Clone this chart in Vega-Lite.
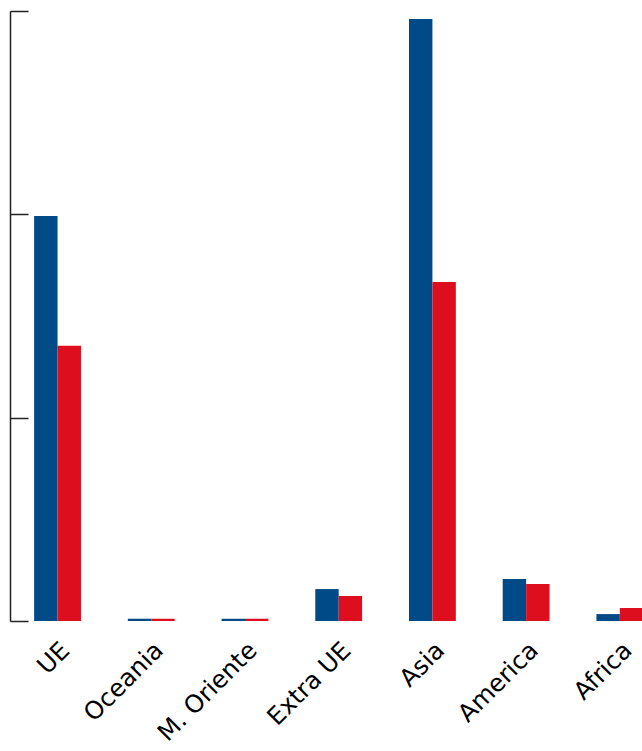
{
  "$schema": "https://vega.github.io/schema/vega-lite/v6.json",
  "width": 632,
  "height": 610,
  "padding": {"left": 10, "top": 11, "right": 0, "bottom": 130},
  "autosize": {"type": "none"},
  "background": "white",
  "config": {"view": {"stroke": null}},
  "data": {
    "values": [
      {"region": "UE", "serie": "A", "value": 1992},
      {"region": "UE", "serie": "B", "value": 1354},
      {"region": "Oceania", "serie": "A", "value": 11},
      {"region": "Oceania", "serie": "B", "value": 11},
      {"region": "M. Oriente", "serie": "A", "value": 11},
      {"region": "M. Oriente", "serie": "B", "value": 11},
      {"region": "Extra UE", "serie": "A", "value": 157},
      {"region": "Extra UE", "serie": "B", "value": 123},
      {"region": "Asia", "serie": "A", "value": 2961},
      {"region": "Asia", "serie": "B", "value": 1667},
      {"region": "America", "serie": "A", "value": 207},
      {"region": "America", "serie": "B", "value": 182},
      {"region": "Africa", "serie": "A", "value": 34},
      {"region": "Africa", "serie": "B", "value": 64}
    ]
  },
  "mark": {"type": "bar"},
  "encoding": {
    "x": {
      "field": "region",
      "type": "nominal",
      "sort": null,
      "scale": {"range": [0.7, 656.7], "paddingInner": 0.5, "paddingOuter": 0.25},
      "axis": {
        "title": null,
        "domain": false,
        "ticks": false,
        "labelAngle": -45,
        "labelFont": "DejaVu Sans",
        "labelFontSize": 24.5,
        "labelColor": "black",
        "labelPadding": 17,
        "labelOverlap": false
      }
    },
    "xOffset": {"field": "serie", "type": "nominal"},
    "y": {
      "field": "value",
      "type": "quantitative",
      "scale": {"domain": [0, 3000]},
      "axis": {
        "title": null,
        "labels": false,
        "grid": false,
        "values": [0, 1000, 2000, 3000],
        "tickSize": -18,
        "tickColor": "#222",
        "domainColor": "#222",
        "tickWidth": 1.5,
        "domainWidth": 1.5
      }
    },
    "color": {
      "field": "serie",
      "type": "nominal",
      "scale": {"domain": ["A", "B"], "range": ["#004A87", "#DD0F1E"]},
      "legend": null
    }
  }
}
